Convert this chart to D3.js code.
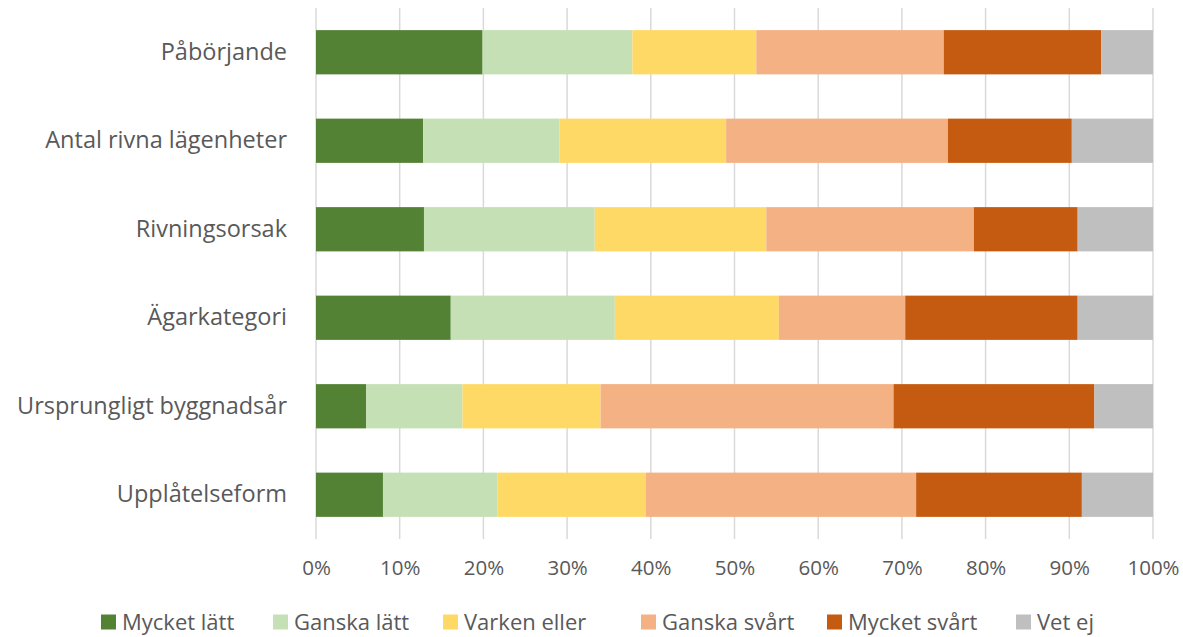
<!DOCTYPE html>
<html>
<head>
<meta charset="utf-8">
<script src="https://cdn.jsdelivr.net/npm/d3@7"></script>
<style>
  body { margin: 0; background: #fff; }
  text { font-family: "Open Sans", "Noto Sans", sans-serif; fill: #595959; }
</style>
</head>
<body>
<div id="chart"></div>
<script>
// Categories, top to bottom
const categories = [
  "Påbörjande",
  "Antal rivna lägenheter",
  "Rivningsorsak",
  "Ägarkategori",
  "Ursprungligt byggnadsår",
  "Upplåtelseform"
];

// Series names and values (percent)
const seriesNames = ["Mycket lätt", "Ganska lätt", "Varken eller", "Ganska svårt", "Mycket svårt", "Vet ej"];
const mycketLatt  = [19.9, 12.8, 12.9, 16.1, 6.0, 8.0];
const ganskaLatt  = [17.9, 16.3, 20.4, 19.6, 11.5, 13.7];
const varkenEller = [14.8, 19.9, 20.5, 19.6, 16.5, 17.7];
const ganskaSvart = [22.4, 26.5, 24.8, 15.1, 35.0, 32.3];
const mycketSvart = [18.8, 14.8, 12.4, 20.6, 24.0, 19.8];
const vetEj       = [6.2, 9.7, 9.0, 9.0, 7.0, 8.5];

const xTicks = [0, 10, 20, 30, 40, 50, 60, 70, 80, 90, 100];
const colors = ["#548235", "#C5E0B4", "#FFD966", "#F4B183", "#C55A11", "#BFBFBF"];

const width = 1183, height = 637;
const margin = { top: 8, right: 30, bottom: 98, left: 316 };
const innerW = width - margin.left - margin.right;
const innerH = height - margin.top - margin.bottom;

const svg = d3.select("#chart").append("svg")
  .attr("width", width)
  .attr("height", height);

const g = svg.append("g")
  .attr("transform", `translate(${margin.left},${margin.top})`);

// build rows for stacking
const seriesValues = [mycketLatt, ganskaLatt, varkenEller, ganskaSvart, mycketSvart, vetEj];
const rows = categories.map((c, i) => {
  const r = { category: c };
  seriesNames.forEach((s, j) => { r[s] = seriesValues[j][i]; });
  return r;
});
const stacked = d3.stack().keys(seriesNames)(rows);

const x = d3.scaleLinear().domain([0, 100]).range([0, innerW]);
const y = d3.scaleBand().domain(categories).range([0, innerH]).paddingInner(0.5).paddingOuter(0.25);

// gridlines
g.append("g")
  .selectAll("line")
  .data(xTicks)
  .enter().append("line")
  .attr("x1", d => x(d)).attr("x2", d => x(d))
  .attr("y1", 0).attr("y2", innerH)
  .attr("stroke", "#D9D9D9")
  .attr("stroke-width", 1.5);

// bars
g.selectAll(".series")
  .data(stacked)
  .enter().append("g")
  .attr("fill", (d, i) => colors[i])
  .selectAll("rect")
  .data(d => d)
  .enter().append("rect")
  .attr("x", d => x(d[0]))
  .attr("y", d => y(d.data.category))
  .attr("width", d => x(d[1]) - x(d[0]))
  .attr("height", y.bandwidth());

// x axis labels
const xAxis = g.append("g")
  .attr("transform", `translate(0,${innerH})`)
  .call(d3.axisBottom(x).tickValues(xTicks).tickFormat(d => d + "%").tickSize(0).tickPadding(21));
xAxis.select(".domain").remove();
xAxis.selectAll("text")
  .attr("font-size", 20.5)
  .attr("font-family", "'Open Sans', sans-serif")
  .attr("fill", "#595959");

// y axis labels
const yAxis = g.append("g")
  .call(d3.axisLeft(y).tickSize(0).tickPadding(29));
yAxis.select(".domain").remove();
yAxis.selectAll("text")
  .attr("font-size", 23.5)
  .attr("font-family", "'Open Sans', sans-serif")
  .attr("fill", "#595959");

// legend
const legendX = [101, 273, 443, 641, 827, 1016];
const legend = svg.append("g").attr("transform", "translate(0,622)");
const items = legend.selectAll("g")
  .data(seriesNames)
  .enter().append("g")
  .attr("transform", (d, i) => `translate(${legendX[i]},0)`);
items.append("rect")
  .attr("x", 0).attr("y", -7.5)
  .attr("width", 15).attr("height", 15)
  .attr("fill", (d, i) => colors[i]);
items.append("text")
  .attr("x", 21).attr("y", 0)
  .attr("dy", "0.35em")
  .attr("font-size", 22)
  .text(d => d);
</script>
</body>
</html>
